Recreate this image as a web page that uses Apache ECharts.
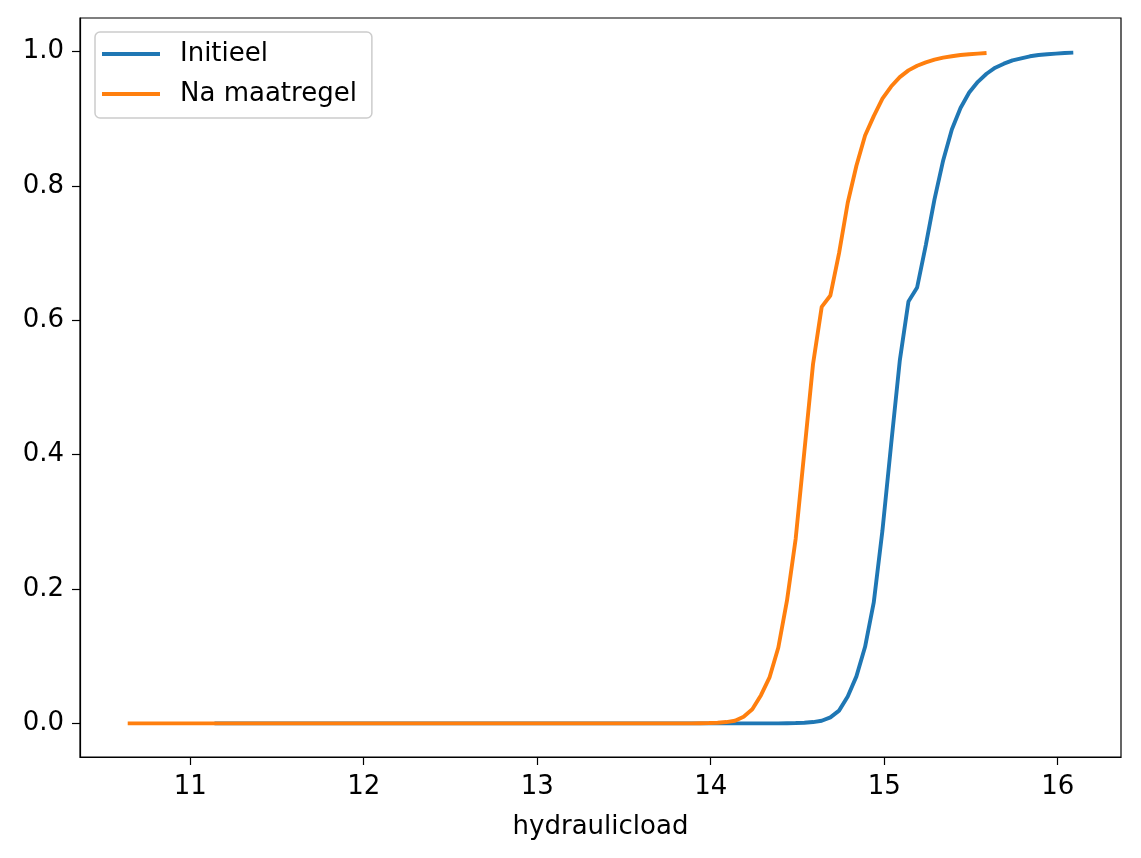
<!DOCTYPE html>
<html>
<head>
<meta charset="utf-8">
<script src="https://cdn.jsdelivr.net/npm/echarts@6/dist/echarts.min.js"></script>
<style>
html,body{margin:0;padding:0;background:#fff;}
#chart{width:1141px;height:858px;}
</style>
</head>
<body>
<div id="chart"></div>
<script>
// Data
const seriesNames = ["Initieel", "Na maatregel"];
const xInitieel = [11.14, 14.39, 14.44, 14.49, 14.54, 14.59, 14.64, 14.69, 14.74, 14.79, 14.84, 14.89, 14.94, 14.99, 15.04, 15.09, 15.14, 15.19, 15.24, 15.29, 15.34, 15.39, 15.44, 15.49, 15.54, 15.59, 15.64, 15.69, 15.74, 15.79, 15.84, 15.89, 15.94, 15.99, 16.04, 16.09];
const yInitieel = [0, 0, 0.0003, 0.0006, 0.001, 0.002, 0.004, 0.009, 0.019, 0.040, 0.070, 0.114, 0.180, 0.287, 0.415, 0.540, 0.628, 0.649, 0.712, 0.780, 0.838, 0.884, 0.916, 0.939, 0.955, 0.967, 0.976, 0.982, 0.987, 0.990, 0.993, 0.995, 0.996, 0.997, 0.998, 0.9985];
const xNaMaatregel = [10.64, 13.89, 13.94, 13.99, 14.04, 14.09, 14.14, 14.19, 14.24, 14.29, 14.34, 14.39, 14.44, 14.49, 14.54, 14.59, 14.64, 14.69, 14.74, 14.79, 14.84, 14.89, 14.94, 14.99, 15.04, 15.09, 15.14, 15.19, 15.24, 15.29, 15.34, 15.39, 15.44, 15.49, 15.54, 15.59];
const yNaMaatregel = [0, 0, 0.0003, 0.0006, 0.001, 0.002, 0.004, 0.010, 0.021, 0.042, 0.069, 0.113, 0.183, 0.275, 0.405, 0.535, 0.620, 0.637, 0.700, 0.775, 0.830, 0.875, 0.904, 0.930, 0.948, 0.962, 0.972, 0.979, 0.984, 0.988, 0.991, 0.993, 0.995, 0.996, 0.997, 0.998];
const xTicks = [11, 12, 13, 14, 15, 16];
const yTicks = [0.0, 0.2, 0.4, 0.6, 0.8, 1.0];
const xAxisName = "hydraulicload";

const pairs = (xs, ys) => xs.map((x, i) => [x, ys[i]]);
const FONT = "DejaVu Sans";
const FS = 26;
const chart = echarts.init(document.getElementById('chart'), null, {renderer: 'canvas'});
chart.setOption({
  animation: false,
  backgroundColor: '#ffffff',
  grid: {left: 80, right: 20, top: 18, bottom: 101, show: true, borderColor: '#000', borderWidth: 1.2, backgroundColor: 'transparent'},
  xAxis: {
    type: 'value', min: 10.365, max: 16.365,
    name: xAxisName, nameLocation: 'middle', nameGap: 57,
    nameTextStyle: {fontFamily: FONT, fontSize: FS, color: '#000'},
    axisLine: {show: true, onZero: false, lineStyle: {color: '#000', width: 1.2}},
    axisTick: {show: true, length: 8, lineStyle: {color: '#000', width: 1.2}, customValues: xTicks},
    axisLabel: {show: true, margin: 17, fontFamily: FONT, fontSize: FS, color: '#000', customValues: xTicks, formatter: v => String(Math.round(v))},
    splitLine: {show: false}
  },
  yAxis: {
    type: 'value', min: -0.05, max: 1.05,
    axisLine: {show: true, onZero: false, lineStyle: {color: '#000', width: 1.2}},
    axisTick: {show: true, length: 8, lineStyle: {color: '#000', width: 1.2}, customValues: yTicks},
    axisLabel: {show: true, margin: 16, fontFamily: FONT, fontSize: FS, color: '#000', customValues: yTicks, formatter: v => v.toFixed(1)},
    splitLine: {show: false}
  },
  legend: {
    show: true, orient: 'vertical', left: 95, top: 32,
    padding: [9, 15, 11, 7], itemGap: 14,
    itemWidth: 58, itemHeight: 4, icon: 'rect',
    borderColor: '#cccccc', borderWidth: 1.5, borderRadius: 5,
    backgroundColor: 'rgba(255,255,255,0.8)',
    textStyle: {fontFamily: FONT, fontSize: FS, color: '#000', padding: [0, 0, 0, 15]},
    data: seriesNames
  },
  series: [
    {name: seriesNames[0], type: 'line', data: pairs(xInitieel, yInitieel), showSymbol: false, symbol: 'none',
     lineStyle: {color: '#1f77b4', width: 3.9}, itemStyle: {color: '#1f77b4'}},
    {name: seriesNames[1], type: 'line', data: pairs(xNaMaatregel, yNaMaatregel), showSymbol: false, symbol: 'none',
     lineStyle: {color: '#ff7f0e', width: 3.9}, itemStyle: {color: '#ff7f0e'}}
  ]
});
</script>
</body>
</html>
